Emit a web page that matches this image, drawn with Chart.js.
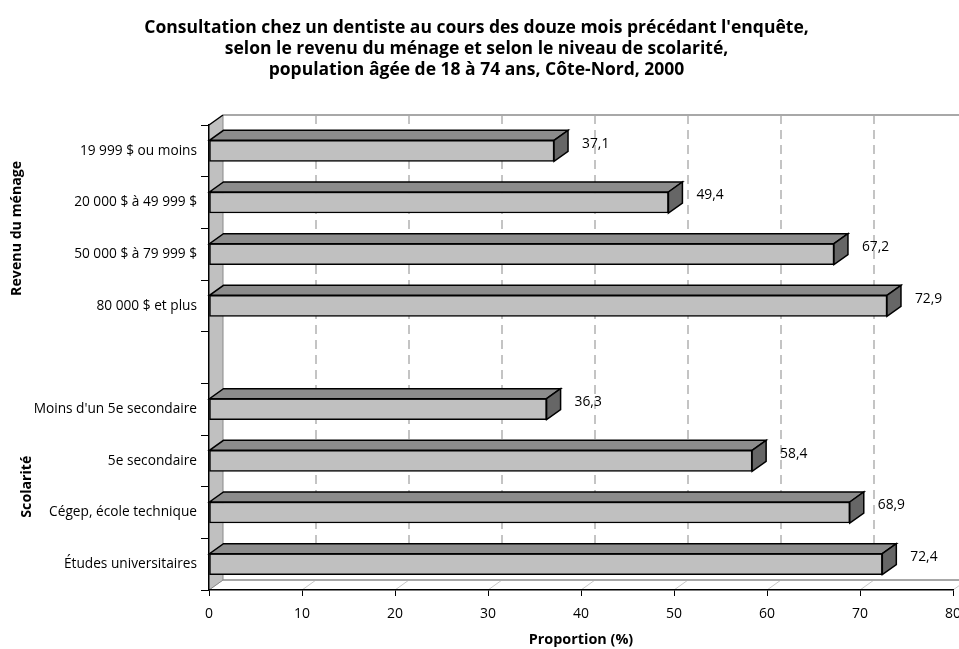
<!DOCTYPE html>
<html lang="fr">
<head>
<meta charset="utf-8">
<title>Consultation chez un dentiste — Côte-Nord, 2000</title>
<script src="https://cdn.jsdelivr.net/npm/chart.js@4/dist/chart.umd.min.js"></script>
<style>
  html, body { margin: 0; padding: 0; background: #fff; overflow: hidden; }
  #wrap { width: 980px; height: 649px; }
</style>
</head>
<body>
<div id="wrap"><canvas id="chart" width="980" height="649"></canvas></div>
<script>
// Catégories (la catégorie vide sépare les deux groupes)
const categories = [
  '19 999 $ ou moins',
  '20 000 $ à 49 999 $',
  '50 000 $ à 79 999 $',
  '80 000 $ et plus',
  '',
  "Moins d'un 5e secondaire",
  '5e secondaire',
  'Cégep, école technique',
  'Études universitaires'
];
// Proportion (%) ayant consulté un dentiste
const proportions = [37.1, 49.4, 67.2, 72.9, null, 36.3, 58.4, 68.9, 72.4];
// Axe horizontal
const xMin = 0;
const xMax = 80;
const xStep = 10;
// Titres des groupes et index des catégories qu'ils couvrent
const groupTitles = ['Revenu du ménage', 'Scolarité'];
const groupFirst = [0, 5];
const groupLast = [3, 8];

const titleLines = [
  "Consultation chez un dentiste au cours des douze mois précédant l'enquête,",
  'selon le revenu du ménage et selon le niveau de scolarité,',
  'population âgée de 18 à 74 ans, Côte-Nord, 2000'
];

const FONT = "'Open Sans', 'DejaVu Sans', sans-serif";
const DX = 14;   // profondeur horizontale de l'effet 3D
const DY = 10;   // profondeur verticale de l'effet 3D

const fmt = v => v.toFixed(1).replace('.', ',');

function poly(ctx, pts, fill, stroke, lw) {
  ctx.beginPath();
  ctx.moveTo(pts[0][0], pts[0][1]);
  for (let i = 1; i < pts.length; i++) ctx.lineTo(pts[i][0], pts[i][1]);
  ctx.closePath();
  if (fill) { ctx.fillStyle = fill; ctx.fill(); }
  if (stroke) { ctx.strokeStyle = stroke; ctx.lineWidth = lw || 1; ctx.stroke(); }
}
function seg(ctx, x1, y1, x2, y2) {
  ctx.beginPath(); ctx.moveTo(x1, y1); ctx.lineTo(x2, y2); ctx.stroke();
}

// Mur du fond, mur de gauche et plancher
const wallsPlugin = {
  id: 'walls',
  beforeDraw(chart) {
    const { ctx, chartArea: a, scales: { x } } = chart;
    const L = a.left, R = a.right, T = a.top, B = a.bottom;
    ctx.save();
    // mur du fond
    ctx.fillStyle = '#fff';
    ctx.fillRect(L + DX, T - DY, R - L, B - T);
    // lignes de quadrillage pointillées
    ctx.strokeStyle = '#c4c4c4';
    ctx.lineWidth = 2;
    ctx.setLineDash([9, 6]);
    x.ticks.forEach(t => {
      if (t.value <= xMin) return;
      const px = Math.round(x.getPixelForValue(t.value) + DX);
      seg(ctx, px, T - DY, px, B - DY);
    });
    ctx.setLineDash([]);
    // arête supérieure du mur du fond
    ctx.strokeStyle = '#a8a8a8';
    ctx.lineWidth = 2;
    seg(ctx, L + DX, T - DY, R + DX + 20, T - DY);
    // plancher
    poly(ctx, [[L, B], [L + DX, B - DY], [R + DX + 20, B - DY], [R + 20, B]], '#fff');
    ctx.strokeStyle = '#c8c8c8';
    ctx.lineWidth = 1;
    x.ticks.forEach(t => {
      const px = x.getPixelForValue(t.value);
      seg(ctx, px, B, px + DX, B - DY);
    });
    ctx.strokeStyle = '#a8a8a8';
    ctx.lineWidth = 2;
    seg(ctx, L + DX, B - DY, R + DX + 20, B - DY);
    // mur de gauche
    poly(ctx, [[L, T], [L + DX, T - DY], [L + DX, B - DY], [L, B]], '#c0c0c0');
    ctx.strokeStyle = '#8a8a8a';
    ctx.lineWidth = 1;
    seg(ctx, L + DX, T - DY, L + DX, B - DY);
    seg(ctx, L, B, L + DX, B - DY);
    ctx.strokeStyle = '#000';
    ctx.lineWidth = 1.5;
    seg(ctx, L, T, L + DX, T - DY);
    ctx.restore();
  }
};

// Faces supérieure et latérale des barres, et étiquettes de valeur
const barsPlugin = {
  id: 'bars3d',
  afterDatasetsDraw(chart) {
    const { ctx } = chart;
    const meta = chart.getDatasetMeta(0);
    ctx.save();
    ctx.lineJoin = 'miter';
    meta.data.forEach((bar, i) => {
      const v = proportions[i];
      if (v == null) return;
      const p = bar.getProps(['x', 'y', 'base', 'height'], true);
      const x0 = p.base, x1 = p.x, top = p.y - p.height / 2, bot = p.y + p.height / 2;
      poly(ctx, [[x0, top], [x1, top], [x1 + DX, top - DY], [x0 + DX, top - DY]], '#8c8c8c', '#000', 1.5);
      poly(ctx, [[x1, top], [x1 + DX, top - DY], [x1 + DX, bot - DY], [x1, bot]], '#666666', '#000', 1.5);
      ctx.fillStyle = '#000';
      ctx.font = '13.8px ' + FONT;
      ctx.textAlign = 'left';
      ctx.textBaseline = 'middle';
      ctx.fillText(fmt(v), x1 + DX + 14, p.y - 7);
    });
    ctx.restore();
  }
};

// Titres verticaux des deux groupes de catégories
const groupTitlePlugin = {
  id: 'groupTitles',
  afterDraw(chart, args, opts) {
    const { ctx, scales: { y } } = chart;
    ctx.save();
    ctx.fillStyle = '#000';
    ctx.font = 'bold 14.2px ' + FONT;
    ctx.textAlign = 'center';
    ctx.textBaseline = 'middle';
    groupTitles.forEach((t, g) => {
      const cy = (y.getPixelForValue(groupFirst[g]) + y.getPixelForValue(groupLast[g])) / 2;
      ctx.save();
      ctx.translate(opts.x[g], cy);
      ctx.rotate(-Math.PI / 2);
      ctx.fillText(t, 0, 0);
      ctx.restore();
    });
    ctx.restore();
  }
};

new Chart(document.getElementById('chart'), {
  type: 'bar',
  data: {
    labels: categories,
    datasets: [{
      data: proportions,
      backgroundColor: '#c0c0c0',
      borderColor: '#000',
      borderWidth: 1.5,
      borderSkipped: false,
      barThickness: 21
    }]
  },
  options: {
    indexAxis: 'y',
    responsive: false,
    animation: false,
    devicePixelRatio: 1,
    layout: { padding: { left: 0, right: 27, top: 0, bottom: 0 } },
    plugins: {
      legend: { display: false },
      tooltip: { enabled: false },
      title: {
        display: true,
        text: titleLines,
        color: '#000',
        font: { family: FONT, size: 17.5, weight: 'bold', lineHeight: 1.2 },
        padding: { top: 17.5, bottom: 44.5 }
      },
      groupTitles: { x: [17, 27] }
    },
    scales: {
      x: {
        min: xMin,
        max: xMax,
        ticks: { stepSize: xStep, color: '#000', font: { family: FONT, size: 14 }, padding: 10, maxRotation: 0 },
        grid: { drawOnChartArea: false, drawTicks: true, tickLength: 6, color: '#000' },
        border: { color: '#000', width: 1.5 },
        title: {
          display: true,
          text: 'Proportion (%)',
          color: '#000',
          font: { family: FONT, size: 14.4, weight: 'bold' },
          padding: { top: 0, bottom: 0 }
        },
        afterFit(s) { s.height = 59; }
      },
      y: {
        ticks: { color: '#000', font: { family: FONT, size: 13.7 }, padding: 4, autoSkip: false },
        grid: { drawOnChartArea: false, drawTicks: true, tickLength: 8, color: '#000', offset: true },
        border: { color: '#000', width: 1.5 },
        afterFit(s) { s.width = 209; }
      }
    }
  },
  plugins: [wallsPlugin, barsPlugin, groupTitlePlugin]
});
</script>
</body>
</html>
